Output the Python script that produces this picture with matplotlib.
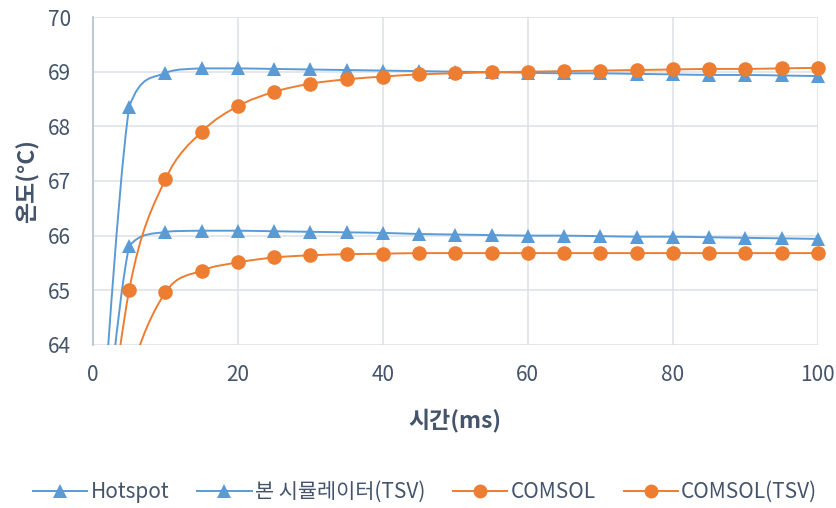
import matplotlib
matplotlib.use("Agg")
import matplotlib.pyplot as plt
import numpy as np
from matplotlib.path import Path
from matplotlib.patches import PathPatch
from matplotlib.lines import Line2D

plt.rcParams['font.family'] = ['Noto Sans CJK KR', 'DejaVu Sans']

# time (ms) and temperatures (degC)
time_ms = [0, 5, 10, 15, 20, 25, 30, 35, 40, 45, 50, 55, 60, 65, 70, 75, 80, 85, 90, 95, 100]
hotspot = [60.0, 68.35, 68.98, 69.06, 69.06, 69.05, 69.04, 69.03, 69.02, 69.01, 69.00,
           68.99, 68.98, 68.97, 68.97, 68.96, 68.95, 68.94, 68.94, 68.93, 68.92]
sim_tsv = [60.0, 65.81, 66.07, 66.09, 66.09, 66.08, 66.07, 66.06, 66.05, 66.03, 66.02,
           66.01, 66.00, 66.00, 65.99, 65.98, 65.98, 65.97, 65.96, 65.95, 65.94]
comsol = [60.0, 65.00, 67.03, 67.90, 68.37, 68.63, 68.78, 68.86, 68.91, 68.95, 68.97,
          68.99, 69.00, 69.01, 69.02, 69.03, 69.04, 69.05, 69.05, 69.06, 69.07]
comsol_tsv = [60.0, 63.35, 64.96, 65.36, 65.51, 65.60, 65.64, 65.66, 65.67, 65.68, 65.68,
              65.68, 65.68, 65.68, 65.68, 65.68, 65.68, 65.68, 65.68, 65.68, 65.68]

series_names = ['Hotspot', '본 시뮬레이터(TSV)', 'COMSOL', 'COMSOL(TSV)']

BLUE = '#5B9BD5'
ORANGE = '#ED7D31'
GRID = '#DCE0E6'
TXT = '#44546A'
YMIN, YMAX = 64, 70


def smooth_path(x, y):
    # Bezier segments through every point, control points kept inside each
    # segment's y range so the curve does not overshoot
    pts = np.column_stack([np.asarray(x, float), np.asarray(y, float)])
    n = len(pts)
    verts = [pts[0]]
    codes = [Path.MOVETO]
    for i in range(n - 1):
        p_prev = pts[i - 1] if i > 0 else pts[i]
        p_next2 = pts[i + 2] if i + 2 < n else pts[i + 1]
        c1 = pts[i] + (pts[i + 1] - p_prev) / 6.0
        c2 = pts[i + 1] - (p_next2 - pts[i]) / 6.0
        lo, hi = sorted((pts[i][1], pts[i + 1][1]))
        c1[1] = np.clip(c1[1], lo, hi)
        c2[1] = np.clip(c2[1], lo, hi)
        verts += [c1, c2, pts[i + 1]]
        codes += [Path.CURVE4] * 3
    return Path(verts, codes)


fig = plt.figure(figsize=(8.37, 5.08), dpi=100)
ax = fig.add_axes([0.111, 0.321, 0.866, 0.6455])

styles = [(hotspot, BLUE, '^'), (sim_tsv, BLUE, '^'),
          (comsol, ORANGE, 'o'), (comsol_tsv, ORANGE, 'o')]

handles = []
for (vals, color, mk), name in zip(styles, series_names):
    patch = PathPatch(smooth_path(time_ms, vals), facecolor='none', edgecolor=color,
                      lw=1.4, zorder=3)
    ax.add_patch(patch)
    v = np.asarray(vals, float)
    v_shown = np.where((v >= YMIN) & (np.asarray(time_ms) > 0), v, np.nan)
    ax.plot(time_ms, v_shown, linestyle='none', marker=mk, markersize=10.5,
            color=color, markeredgewidth=0, clip_on=False, zorder=4)
    handles.append(Line2D([], [], color=color, lw=1.4, marker=mk,
                          markersize=9.5 if mk == '^' else 10, markeredgewidth=0, label=name))

ax.set_xlim(0, 100)
ax.set_ylim(YMIN, YMAX)
ax.set_xticks(range(0, 101, 20))
ax.set_yticks(range(64, 71))
ax.grid(True, color=GRID, lw=1.1)
ax.set_axisbelow(True)
for s in ['top', 'right', 'bottom']:
    ax.spines[s].set_visible(False)
ax.spines['left'].set_color('#B8C3D3')
ax.spines['left'].set_linewidth(1.3)
ax.tick_params(length=0, labelsize=15, labelcolor=TXT)
ax.tick_params(axis='y', pad=16)
ax.tick_params(axis='x', pad=14)

ax.set_xlabel('시간(ms)', fontsize=16.5, fontweight='bold', color=TXT, labelpad=16)
ax.set_ylabel('온도(°C)', fontsize=16.5, fontweight='bold', color=TXT, labelpad=6)

fig.legend(handles=handles, loc='center', bbox_to_anchor=(0.508, 0.031), ncol=4,
           frameon=False, fontsize=15, handlelength=2.6, columnspacing=1.35,
           handletextpad=0.15, labelcolor=TXT)

fig.savefig('out.png', dpi=100)
